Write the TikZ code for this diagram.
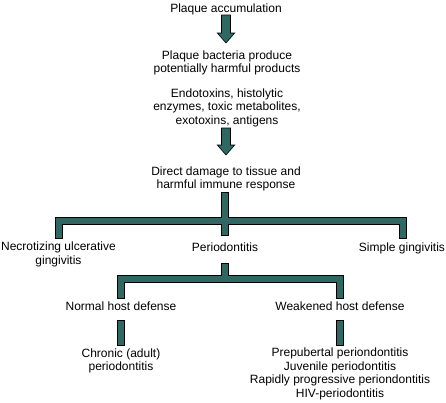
\documentclass[tikz,border=0pt]{standalone}
\usepackage{fontspec}
\setmainfont{Liberation Sans}
\definecolor{tealfill}{RGB}{47,104,99}
\begin{document}
\begin{tikzpicture}[x=1pt,y=-1pt,
  lbl/.style={font=\fontsize{12}{13.4}\selectfont, align=center, inner sep=0pt, anchor=base},
  conn/.style={fill=tealfill, draw=black, line width=0.6pt, line join=miter}]
\path[use as bounding box] (0,0) rectangle (446,402);
% texts (anchor = baseline of last line)
\node[lbl] (t1) at (226,12) {Plaque accumulation};
\node[lbl] (t2) at (227,72.5) {Plaque bacteria produce\\potentially harmful products};
\node[lbl] (t3) at (227,124) {Endotoxins, histolytic\\enzymes, toxic metabolites,\\exotoxins, antigens};
\node[lbl] (t4) at (226,188.5) {Direct damage to tissue and\\harmful immune response};
\node[lbl] (nug) at (58.5,264) {Necrotizing ulcerative\\gingivitis};
\node[lbl] (perio) at (225,251) {Periodontitis};
\node[lbl] (sg) at (402,251) {Simple gingivitis};
\node[lbl] (nhd) at (121,310) {Normal host defense};
\node[lbl] (whd) at (340,310) {Weakened host defense};
\node[lbl] (chr) at (121,370.5) {Chronic (adult)\\periodontitis};
\node[lbl] (lst) at (340,397) {Prepubertal periondontitis\\Juvenile periodontitis\\Rapidly progressive periondontitis\\HIV-periodontitis};
% block arrows
\draw[conn] (221.5,15) -- (230.5,15) -- (230.5,33) -- (234.7,33) -- (226,43) -- (217.3,33) -- (221.5,33) -- cycle;
\draw[conn] (221.5,128) -- (230.5,128) -- (230.5,145) -- (234.7,145) -- (226,155) -- (217.3,145) -- (221.5,145) -- cycle;
% branch 1
\draw[conn] (221,192) -- (228,192) -- (228,217.5) -- (406,217.5) -- (406,238) -- (399,238) -- (399,224.5)
  -- (228,224.5) -- (228,235) -- (221,235) -- (221,224.5) -- (62,224.5) -- (62,238) -- (55,238)
  -- (55,217.5) -- (221,217.5) -- cycle;
% branch 2
\draw[conn] (221.5,263) -- (228.5,263) -- (228.5,275) -- (343,275) -- (343,298) -- (336,298) -- (336,282)
  -- (124,282) -- (124,298) -- (117,298) -- (117,275) -- (221.5,275) -- cycle;
% lower bars
\draw[conn] (117,320) rectangle (124,345);
\draw[conn] (336,320) rectangle (343,345);
\end{tikzpicture}
\end{document}
